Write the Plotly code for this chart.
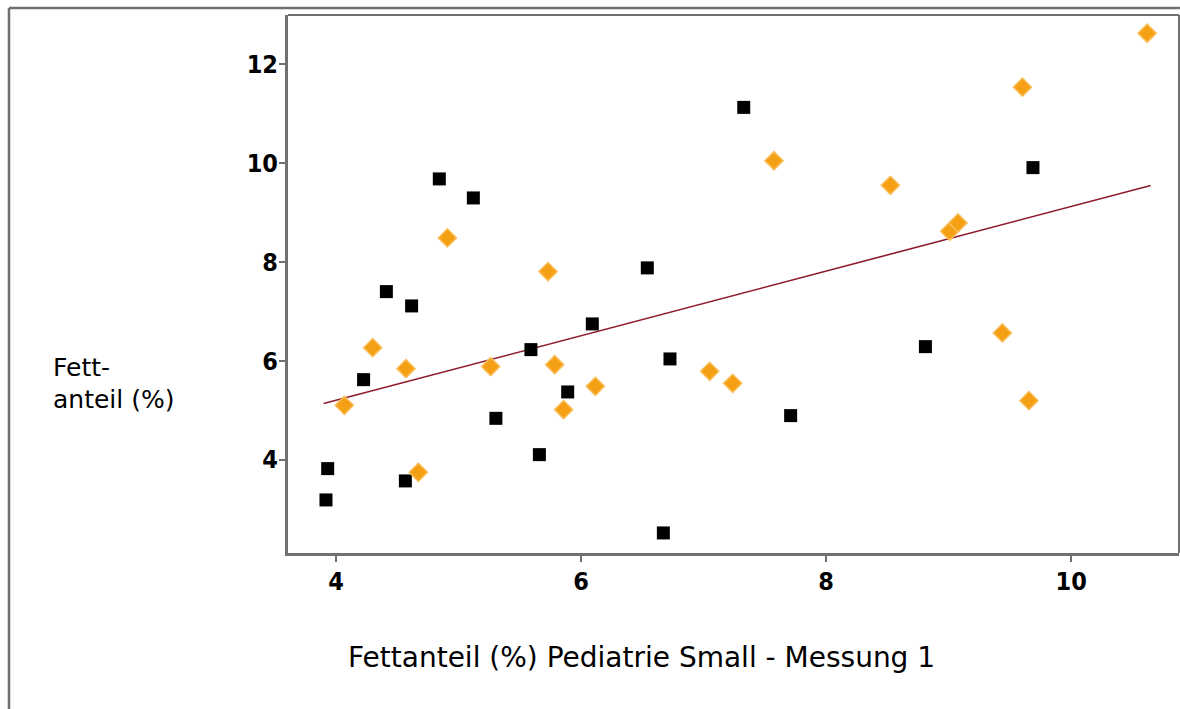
import plotly.graph_objects as go

# --- data ---
black_x = [3.917, 3.931, 4.224, 4.410, 4.565, 4.616, 4.842, 5.120, 5.304, 5.590,
           5.659, 5.890, 6.091, 6.540, 6.671, 6.725, 7.327, 7.710, 8.810, 9.688]
black_y = [3.184, 3.818, 5.619, 7.401, 3.569, 7.111, 9.682, 9.297, 4.836, 6.227,
           4.101, 5.370, 6.747, 7.881, 2.516, 6.038, 11.13, 4.891, 6.287, 9.911]

orange_x = [4.067, 4.298, 4.570, 4.671, 4.908, 5.261, 5.729, 5.784, 5.857, 6.116,
            7.049, 7.237, 7.574, 8.524, 9.008, 9.076, 9.438, 9.602, 9.655, 10.62]
orange_y = [5.099, 6.267, 5.842, 3.743, 8.488, 5.883, 7.806, 5.923, 5.012, 5.484,
            5.787, 5.545, 10.05, 9.553, 8.622, 8.792, 6.565, 11.54, 5.194, 12.63]

trend_x = [3.898, 10.649]
trend_y = [5.134, 9.549]

x_ticks = [4, 6, 8, 10]
y_ticks = [4, 6, 8, 10, 12]
x_range = [3.607, 10.88]
y_range = [2.11, 13.0]

x_title = "Fettanteil (%) Pediatrie Small - Messung 1"
y_title_lines = ["Fett-", "anteil (%)"]

# --- layout constants (pixels) ---
W, H = 1180, 709
ML, MR, MT, MB = 288, 1, 15, 156
PW, PH = W - ML - MR, H - MT - MB
GRAY = "#707070"

def px_x(p):
    return (p - ML) / PW

def px_y(p):
    return (H - MB - p) / PH

fig = go.Figure()

fig.add_trace(go.Scatter(
    x=trend_x, y=trend_y, mode="lines",
    line=dict(color="#8E1B2B", width=1.6),
    hoverinfo="skip", showlegend=False))

fig.add_trace(go.Scatter(
    x=black_x, y=black_y, mode="markers",
    marker=dict(symbol="square", size=13, color="#000000",
                line=dict(width=0)),
    showlegend=False))

fig.add_trace(go.Scatter(
    x=orange_x, y=orange_y, mode="markers",
    marker=dict(symbol="diamond", size=14, color="#F5A014",
                line=dict(width=1.5, color="#F9BE5A")),
    showlegend=False))

tick_font = dict(family="Liberation Sans Narrow, DejaVu Sans Condensed, Arial Narrow, sans-serif",
                 size=25, color="#000000", weight="bold")

fig.update_xaxes(
    range=x_range, tickvals=x_ticks, ticktext=[str(v) for v in x_ticks],
    showgrid=False, zeroline=False,
    showline=True, linecolor=GRAY, linewidth=3,
    ticks="outside", ticklen=6, tickwidth=1.5, tickcolor=GRAY,
    tickfont=tick_font, ticklabelstandoff=-2)

fig.update_yaxes(
    range=y_range, tickvals=y_ticks, ticktext=[str(v) for v in y_ticks],
    showgrid=False, zeroline=False,
    showline=True, linecolor=GRAY, linewidth=3,
    ticks="outside", ticklen=6, tickwidth=1.5, tickcolor=GRAY,
    tickfont=tick_font, ticklabelstandoff=-4)

shapes = [
    # plot frame top and right
    dict(type="line", xref="paper", yref="paper", x0=0, x1=1, y0=1, y1=1,
         line=dict(color=GRAY, width=2)),
    dict(type="line", xref="paper", yref="paper", x0=1, x1=1, y0=0, y1=1,
         line=dict(color=GRAY, width=2)),
    # outer frame (top and left)
    dict(type="line", xref="paper", yref="paper",
         x0=px_x(9), x1=px_x(W + 5), y0=px_y(8), y1=px_y(8),
         line=dict(color=GRAY, width=2.5)),
    dict(type="line", xref="paper", yref="paper",
         x0=px_x(9), x1=px_x(9), y0=px_y(8), y1=px_y(H + 5),
         line=dict(color=GRAY, width=2.5)),
]

title_font = dict(family="DejaVu Sans, Liberation Sans, sans-serif", size=28, color="#000000")
ytitle_font = dict(family="DejaVu Sans, Liberation Sans, sans-serif", size=25, color="#000000")

annotations = [
    dict(text=y_title_lines[0], xref="paper", yref="paper", x=px_x(51), y=px_y(367),
         xanchor="left", yanchor="middle", align="left", showarrow=False,
         font=ytitle_font),
    dict(text=y_title_lines[1], xref="paper", yref="paper", x=px_x(51), y=px_y(399),
         xanchor="left", yanchor="middle", align="left", showarrow=False,
         font=ytitle_font),
    dict(text=x_title, xref="paper", yref="paper", x=px_x(641), y=px_y(657),
         xanchor="center", yanchor="middle", showarrow=False,
         font=title_font),
]

fig.update_layout(
    width=W, height=H,
    margin=dict(l=ML, r=MR, t=MT, b=MB),
    paper_bgcolor="#FFFFFF", plot_bgcolor="#FFFFFF",
    shapes=shapes, annotations=annotations,
    showlegend=False)

fig.write_html("out.html")
